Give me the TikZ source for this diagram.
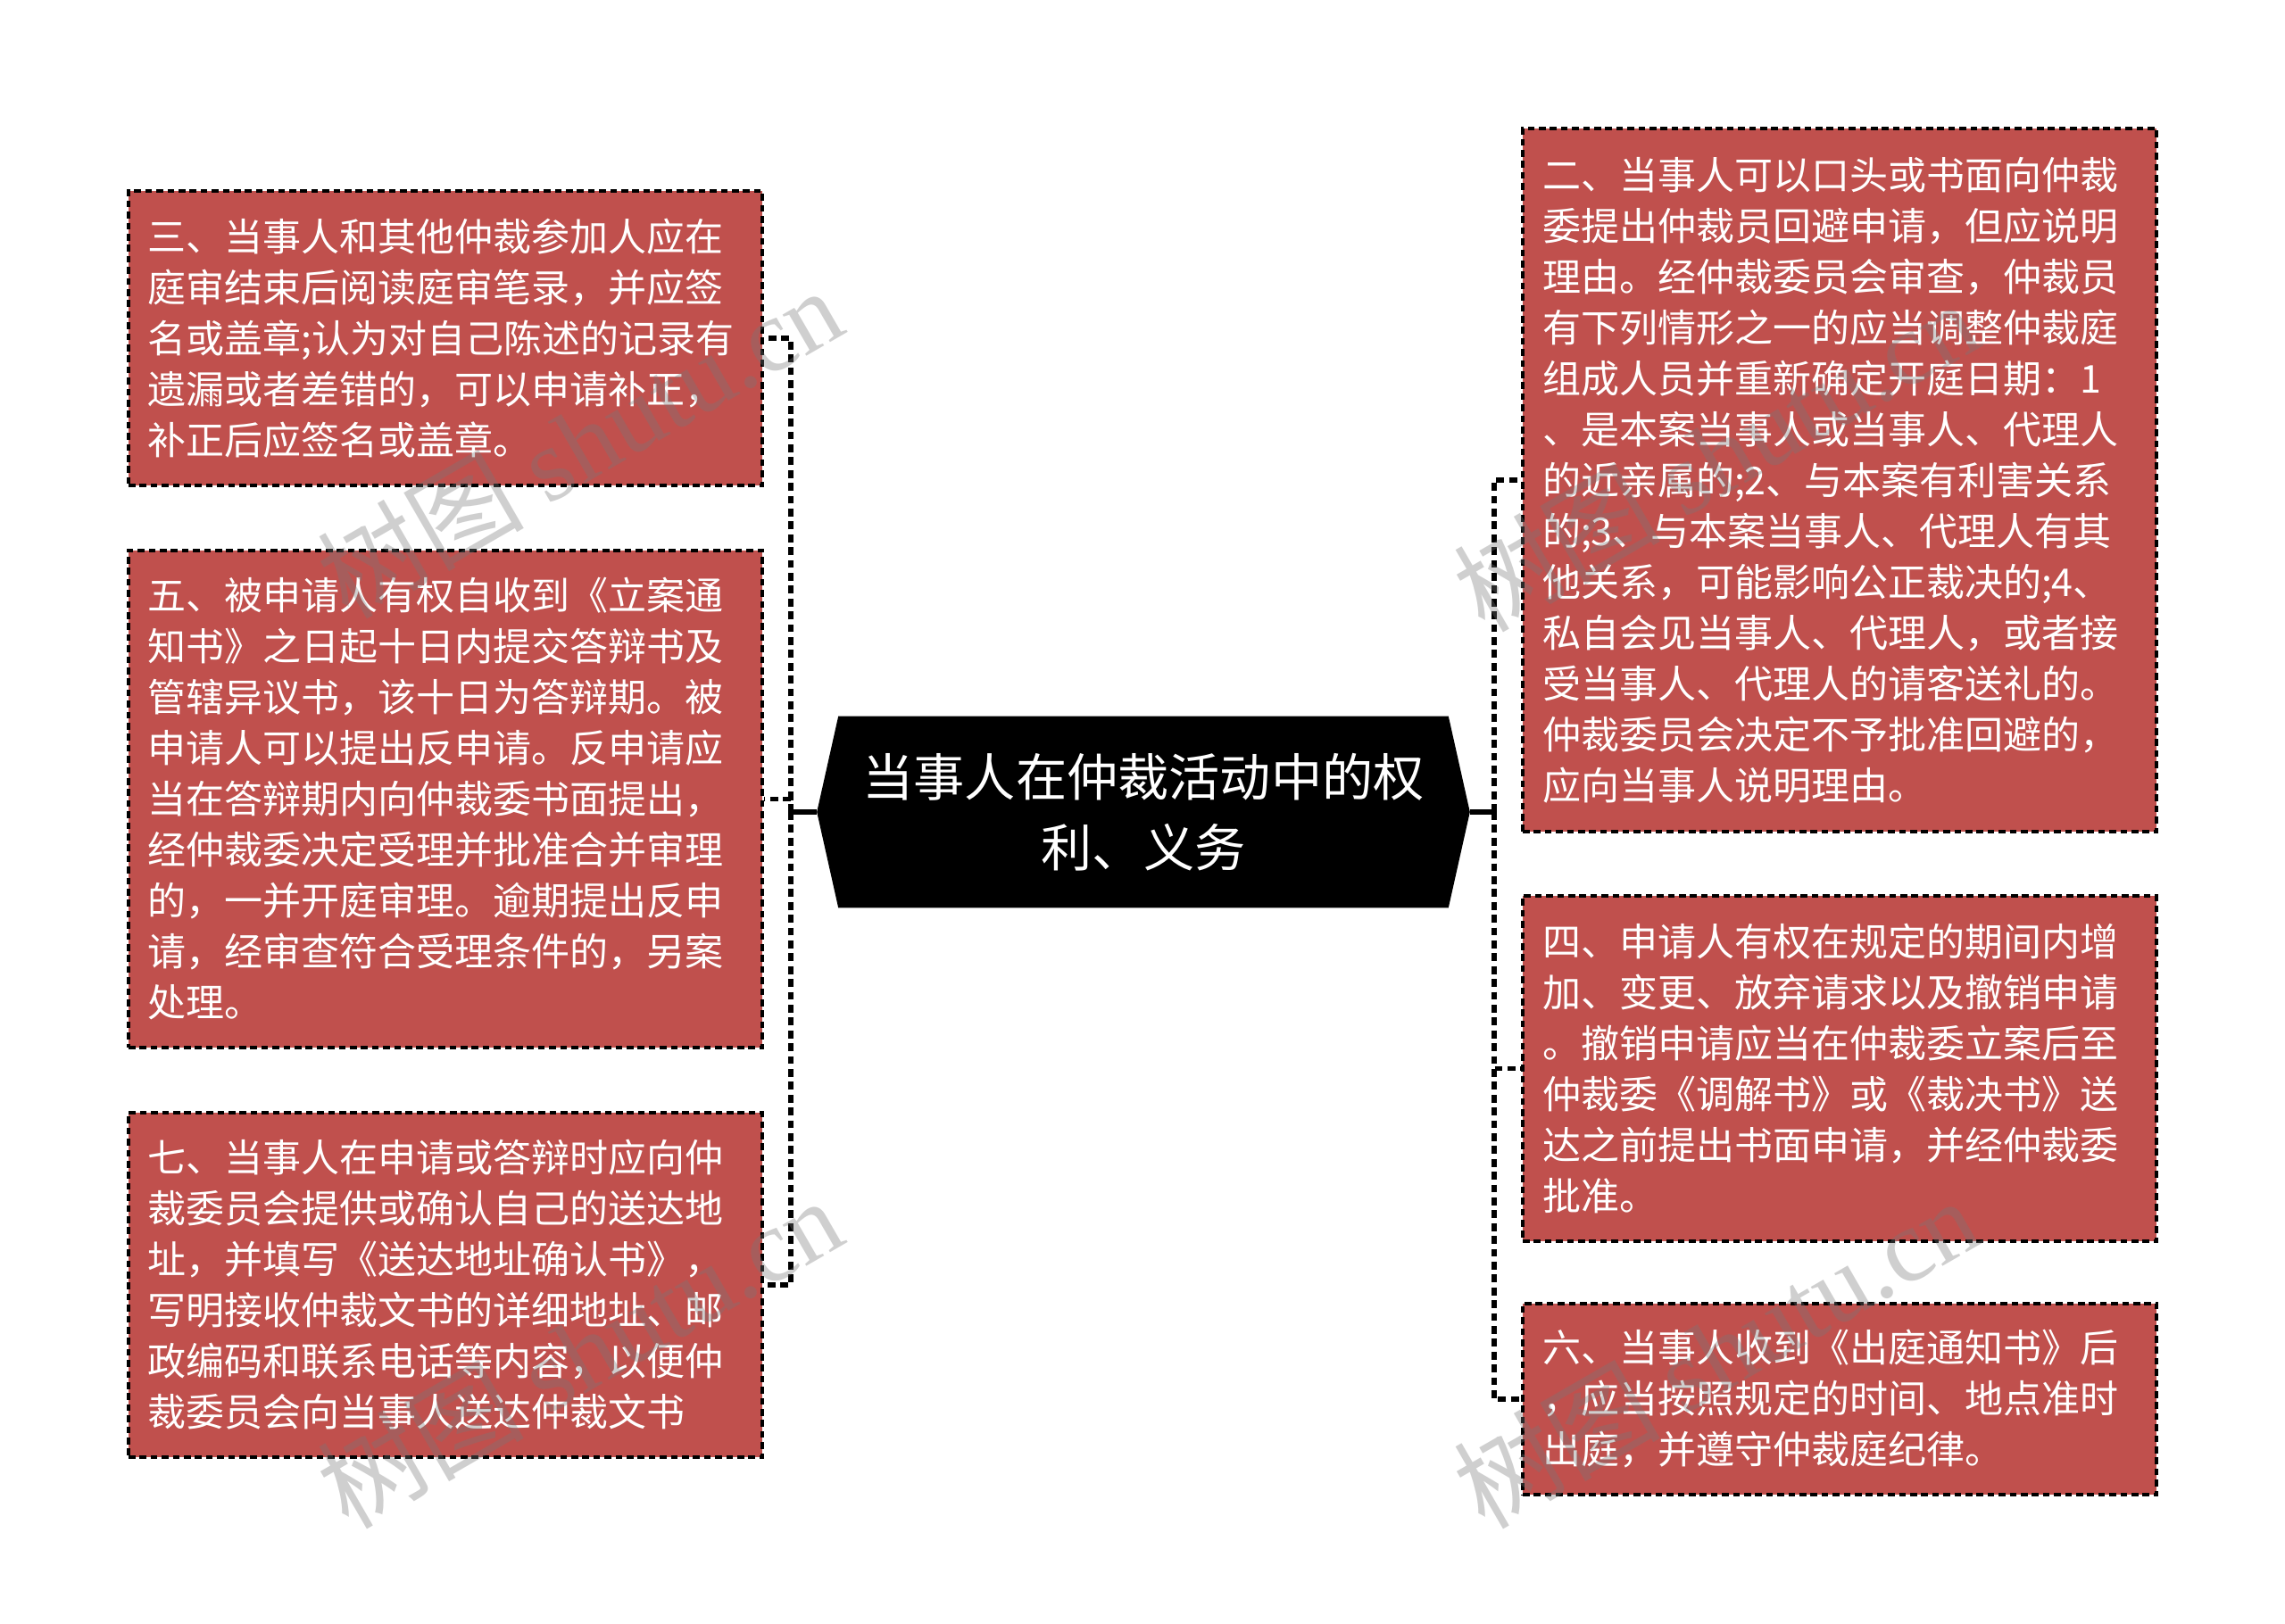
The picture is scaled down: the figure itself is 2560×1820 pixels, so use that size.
\documentclass[tikz,border=0pt]{standalone}
\usepackage{fontspec}
\setmainfont{Noto Sans CJK SC}
\newfontfamily\wmlatin{Liberation Serif}
\usetikzlibrary{backgrounds}
\definecolor{boxred}{RGB}{192,80,77}
\definecolor{wmgray}{RGB}{120,120,120}
\tikzset{
  box/.style={draw=black, line width=0.8pt, dash pattern=on 1.9pt off 1.2pt,
    fill=boxred, text=white, font=\fontsize{10.75pt}{14.25pt}\selectfont,
    align=left, text width=166.5pt, inner xsep=5.5pt, inner ysep=0pt,
    minimum width=177.5pt},
  conn/.style={draw=black, line width=1.3pt, dash pattern=on 2.2pt off 1.4pt},
  stub/.style={draw=black, line width=1.3pt},
  centre/.style={text=white, align=center, inner sep=0pt,
    font=\fontsize{14.3pt}{19.75pt}\selectfont,
    minimum width=182.5pt, minimum height=53.25pt},
  wm/.style={text=wmgray, text opacity=0.35, rotate=30, inner sep=0pt,
    font=\fontsize{29pt}{32pt}\selectfont}
}
\begin{document}
\begin{tikzpicture}[x=0.25pt,y=-0.25pt]
\useasboundingbox (0,0) rectangle (2560,1820);

% central topic
\node[centre] (c) at (1281,910) {当事人在仲裁活动中的权\\利、义务};

% left branches
\node[box, minimum height=82.5pt] (b3) at (499,379) {三、当事人和其他仲裁参加人应在\\庭审结束后阅读庭审笔录，并应签\\名或盖章;认为对自己陈述的记录有\\遗漏或者差错的，可以申请补正，\\补正后应签名或盖章。};
\node[box, minimum height=139.25pt] (b5) at (499,895.5) {五、被申请人有权自收到《立案通\\知书》之日起十日内提交答辩书及\\管辖异议书，该十日为答辩期。被\\申请人可以提出反申请。反申请应\\当在答辩期内向仲裁委书面提出，\\经仲裁委决定受理并批准合并审理\\的，一并开庭审理。逾期提出反申\\请，经审查符合受理条件的，另案\\处理。};
\node[box, minimum height=96.5pt] (b7) at (499,1440) {七、当事人在申请或答辩时应向仲\\裁委员会提供或确认自己的送达地\\址，并填写《送达地址确认书》，\\写明接收仲裁文书的详细地址、邮\\政编码和联系电话等内容，以便仲\\裁委员会向当事人送达仲裁文书};

% right branches
\node[box, minimum height=197pt] (b2) at (2061,538) {二、当事人可以口头或书面向仲裁\\委提出仲裁员回避申请，但应说明\\理由。经仲裁委员会审查，仲裁员\\有下列情形之一的应当调整仲裁庭\\组成人员并重新确定开庭日期：1\\、是本案当事人或当事人、代理人\\的近亲属的;2、与本案有利害关系\\的;3、与本案当事人、代理人有其\\他关系，可能影响公正裁决的;4、\\私自会见当事人、代理人，或者接\\受当事人、代理人的请客送礼的。\\仲裁委员会决定不予批准回避的，\\应向当事人说明理由。};
\node[box, minimum height=96.75pt] (b4) at (2061,1197.5) {四、申请人有权在规定的期间内增\\加、变更、放弃请求以及撤销申请\\。撤销申请应当在仲裁委立案后至\\仲裁委《调解书》或《裁决书》送\\达之前提出书面申请，并经仲裁委\\批准。};
\node[box, minimum height=53.5pt] (b6) at (2061,1568) {六、当事人收到《出庭通知书》后\\，应当按照规定的时间、地点准时\\出庭，并遵守仲裁庭纪律。};

% background and central shape
\begin{pgfonlayer}{background}
  \fill[white] (0,0) rectangle (2560,1820);
  \fill[black] ([xshift=6pt]c.north west) -- ([xshift=-6pt]c.north east) -- (c.east)
    -- ([xshift=-6pt]c.south east) -- ([xshift=6pt]c.south west) -- (c.west) -- cycle;
\end{pgfonlayer}

% connectors
\coordinate (jl) at (886,910);
\coordinate (jr) at (1674,910);
\draw[stub] (c.west) -- (jl);
\draw[stub] (c.east) -- (jr);
\draw[conn] (jl) |- (b3.east);
\draw[conn] (jl) |- (b5.east);
\draw[conn] (jl) |- (b7.east);
\draw[conn] (jr) |- (b2.west);
\draw[conn] (jr) |- (b4.west);
\draw[conn] (jr) |- (b6.west);

% watermarks
\node[wm] (wm1) at (649,495) {树图 {\wmlatin shutu.cn}};
\node[wm] (wm2) at (649,1515) {树图 {\wmlatin shutu.cn}};
\node[wm] (wm3) at (1922,510) {树图 {\wmlatin shutu.cn}};
\node[wm] (wm4) at (1922,1515) {树图 {\wmlatin shutu.cn}};
\end{tikzpicture}
\end{document}
